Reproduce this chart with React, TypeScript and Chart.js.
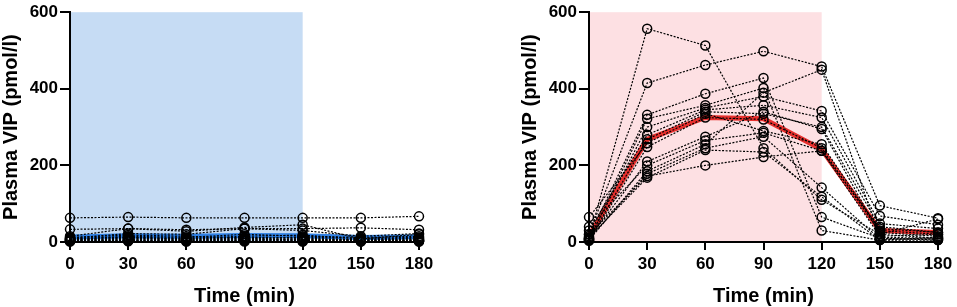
import React, { useEffect, useRef } from "react";
import { Chart, registerables } from "chart.js";
Chart.register(...registerables);

const timePoints = [0, 30, 60, 90, 120, 150, 180];
const yMax = 600;
const infusionEnd = 120;

// Left panel (saline / control)
const ctl01 = [63, 65, 63, 63, 63, 63, 67];
const ctl02 = [33, 35, 32, 35, 35, 37, 32];
const ctl03 = [15, 35, 28, 38, 45, 8, 20];
const ctl04 = [10, 22, 20, 35, 30, 15, 22];
const ctl05 = [8, 15, 12, 20, 15, 12, 15];
const ctl06 = [5, 10, 8, 12, 10, 5, 8];
const ctl07 = [3, 5, 5, 8, 5, 3, 5];
const ctl08 = [12, 18, 15, 10, 12, 10, 12];
const ctl09 = [6, 8, 6, 5, 8, 6, 3];
const ctl10 = [2, 3, 2, 3, 2, 2, 2];
const ctl11 = [10, 12, 10, 15, 18, 8, 10];
const ctl12 = [4, 6, 4, 6, 4, 4, 4];
const ctl13 = [7, 12, 8, 10, 7, 5, 6];
const ctl14 = [1, 2, 1, 1, 1, 1, 1];
const ctl15 = [5, 4, 3, 4, 3, 2, 2];
const ctlMean = [13, 16, 15, 17, 16, 12, 14];

// Right panel (VIP infusion)
const vip01 = [10, 557, 513, 245, 110, 20, 10];
const vip02 = [20, 415, 462, 498, 458, 95, 62];
const vip03 = [15, 332, 387, 428, 65, 10, 5];
const vip04 = [5, 322, 357, 402, 30, 5, 5];
const vip05 = [8, 300, 350, 380, 342, 68, 45];
const vip06 = [30, 280, 345, 357, 325, 48, 35];
const vip07 = [5, 268, 340, 335, 300, 40, 25];
const vip08 = [65, 258, 335, 290, 255, 30, 20];
const vip09 = [3, 248, 325, 320, 245, 25, 15];
const vip10 = [10, 210, 275, 340, 295, 20, 60];
const vip11 = [40, 200, 265, 285, 238, 15, 20];
const vip12 = [5, 185, 255, 390, 450, 12, 10];
const vip13 = [8, 178, 245, 275, 142, 8, 8];
const vip14 = [12, 168, 240, 235, 118, 5, 12];
const vip15 = [20, 172, 200, 222, 238, 35, 25];
const vipMean = [15, 268, 325, 322, 242, 30, 25];

const ctlSubjects = [ctl01, ctl02, ctl03, ctl04, ctl05, ctl06, ctl07, ctl08, ctl09, ctl10, ctl11, ctl12, ctl13, ctl14, ctl15];
const vipSubjects = [vip01, vip02, vip03, vip04, vip05, vip06, vip07, vip08, vip09, vip10, vip11, vip12, vip13, vip14, vip15];

const FONT = "'Liberation Sans', Arial, Helvetica, sans-serif";

function toXY(vals: number[]) {
  return vals.map((v, i) => ({ x: timePoints[i], y: v }));
}

function makeConfig(subjects: number[][], mean: number[], meanColor: string, shade: string): any {
  const shadePlugin = {
    id: "shade",
    beforeDraw(chart: any) {
      const { ctx, scales } = chart;
      const x0 = scales.x.getPixelForValue(0);
      const x1 = scales.x.getPixelForValue(infusionEnd);
      const y0 = scales.y.getPixelForValue(yMax);
      const y1 = scales.y.getPixelForValue(0);
      ctx.save();
      ctx.fillStyle = shade;
      ctx.fillRect(x0, y0, x1 - x0, y1 - y0);
      ctx.restore();
    },
  };
  const datasets: any[] = subjects.map((s) => ({
    data: toXY(s),
    borderColor: "#000",
    borderWidth: 1.2,
    borderDash: [2, 1.5],
    pointRadius: 4.5,
    pointBorderWidth: 1.5,
    pointBorderColor: "#000",
    pointBackgroundColor: "rgba(0,0,0,0)",
    fill: false,
    tension: 0,
    clip: false,
    order: 1,
  }));
  datasets.push({
    data: toXY(mean),
    borderColor: meanColor,
    borderWidth: 5,
    pointRadius: 0,
    fill: false,
    tension: 0,
    clip: false,
    order: 2,
  });
  return {
    type: "line",
    data: { datasets },
    options: {
      animation: false,
      responsive: false,
      devicePixelRatio: 1,
      layout: { padding: { top: 10, right: 19, left: 0, bottom: 0 } },
      plugins: { legend: { display: false }, tooltip: { enabled: false } },
      scales: {
        x: {
          type: "linear",
          min: 0,
          max: 180,
          afterFit(scale: any) {
            scale.height = 65;
          },
          ticks: {
            stepSize: 30,
            padding: 4,
            color: "#000",
            font: { family: FONT, size: 17, weight: "bold" },
          },
          grid: {
            drawOnChartArea: false,
            drawTicks: true,
            tickLength: 8,
            lineWidth: 2,
            color: "#000",
          },
          border: { display: true, color: "#000", width: 2 },
          title: {
            display: true,
            text: "Time (min)",
            color: "#000",
            font: { family: FONT, size: 20, weight: "bold", lineHeight: 1 },
            padding: { top: 0, bottom: 1 },
          },
        },
        y: {
          type: "linear",
          min: 0,
          max: yMax,
          afterFit(scale: any) {
            scale.width = 70;
          },
          ticks: {
            stepSize: 200,
            padding: 2,
            color: "#000",
            font: { family: FONT, size: 17, weight: "bold" },
          },
          grid: {
            drawOnChartArea: false,
            drawTicks: true,
            tickLength: 10,
            lineWidth: 2,
            color: "#000",
          },
          border: { display: true, color: "#000", width: 2 },
          title: {
            display: true,
            text: "Plasma VIP (pmol/l)",
            color: "#000",
            font: { family: FONT, size: 20, weight: "bold", lineHeight: 1 },
            padding: { top: 1, bottom: 0 },
          },
        },
      },
    },
    plugins: [shadePlugin],
  };
}

function Panel({ subjects, mean, meanColor, shade, left }: any) {
  const ref = useRef<HTMLCanvasElement | null>(null);
  useEffect(() => {
    if (!ref.current) return;
    const chart = new Chart(ref.current, makeConfig(subjects, mean, meanColor, shade));
    return () => chart.destroy();
  }, []);
  return (
    <canvas
      ref={ref}
      width={438}
      height={307}
      style={{ position: "absolute", left, top: 0, width: 438, height: 307, display: "block" }}
    />
  );
}

export default function App() {
  return (
    <div style={{ position: "absolute", left: 0, top: 0, width: 957, height: 307, background: "#fff" }}>
      <Panel subjects={ctlSubjects} mean={ctlMean} meanColor="#2f80e4" shade="#c6dcf4" left={0} />
      <Panel subjects={vipSubjects} mean={vipMean} meanColor="#e8302e" shade="#fde0e3" left={519} />
    </div>
  );
}
